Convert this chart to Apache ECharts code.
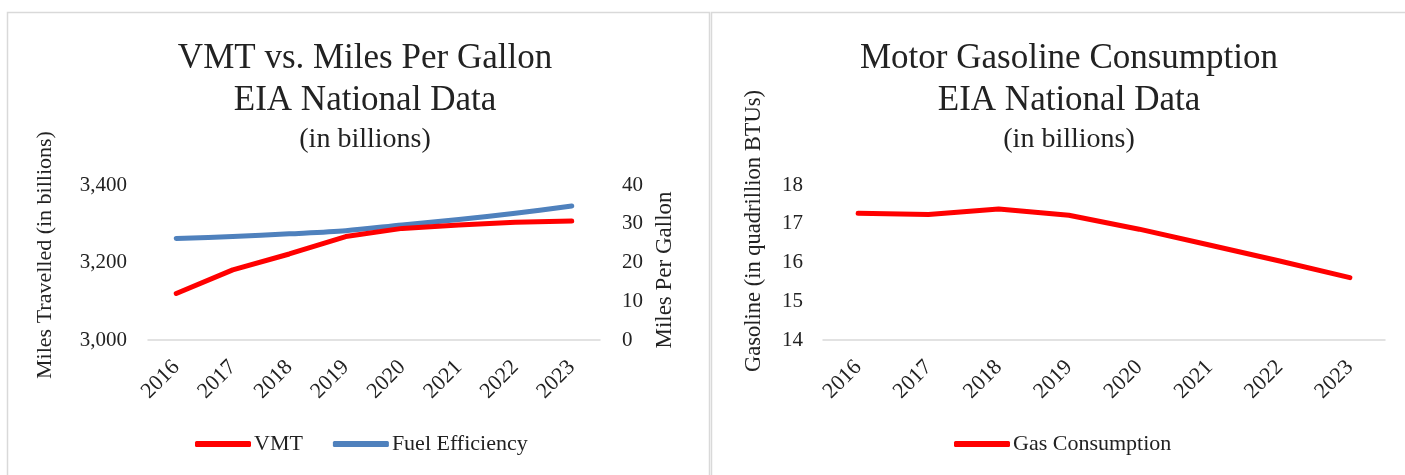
<!DOCTYPE html>
<html>
<head>
<meta charset="utf-8">
<script src="https://cdn.jsdelivr.net/npm/echarts@6/dist/echarts.min.js"></script>
<style>
  html, body { margin: 0; padding: 0; background: #fff; }
  #chart { width: 1405px; height: 475px; }
</style>
</head>
<body>
<div id="chart"></div>
<script>
// data
const years = ['2016', '2017', '2018', '2019', '2020', '2021', '2022', '2023'];
const vmt = [3120, 3181, 3222, 3267, 3288, 3297, 3304, 3307];       // billions of miles
const mpg = [26.2, 26.7, 27.4, 28.2, 29.7, 31.1, 32.7, 34.6];       // miles per gallon
const gas = [17.27, 17.24, 17.38, 17.22, 16.86, 16.45, 16.04, 15.61]; // quadrillion BTUs

const FONT = 'Liberation Serif';
const INK = '#222';
const GRAY = '#d9d9d9';
const RED = '#ff0000';
const BLUE = '#4f81bd';

const chart = echarts.init(document.getElementById('chart'));

const xAxisBase = {
    type: 'category',
    data: years,
    axisTick: { show: false },
    axisLine: { lineStyle: { color: GRAY, width: 1.5 } },
    axisLabel: { rotate: 45, margin: 24, color: INK, fontFamily: FONT, fontSize: 22 }
};

const yAxisBase = {
    type: 'value',
    splitLine: { show: false },
    axisLine: { show: false },
    axisTick: { show: false },
    axisLabel: { color: INK, fontFamily: FONT, fontSize: 21 }
};

const lineStyle = (color) => ({ color: color, width: 5, cap: 'round', join: 'round' });

const legendText = { fontFamily: FONT, fontSize: 22, color: INK, padding: [0, 0, 0, -2] };

const option = {
    animation: false,
    title: [
        {
            text: 'VMT vs. Miles Per Gallon\nEIA National Data',
            subtext: '(in billions)',
            left: 360, top: 33, textAlign: 'center', itemGap: 1,
            textStyle: { fontFamily: FONT, fontSize: 35, fontWeight: 'normal', color: INK, lineHeight: 42 },
            subtextStyle: { fontFamily: FONT, fontSize: 28, color: INK, lineHeight: 34 }
        },
        {
            text: 'Motor Gasoline Consumption\nEIA National Data',
            subtext: '(in billions)',
            left: 1064, top: 33, textAlign: 'center', itemGap: 1,
            textStyle: { fontFamily: FONT, fontSize: 35, fontWeight: 'normal', color: INK, lineHeight: 42 },
            subtextStyle: { fontFamily: FONT, fontSize: 28, color: INK, lineHeight: 34 }
        }
    ],
    legend: [
        {
            data: ['VMT', 'Fuel Efficiency'],
            left: 190, top: 428, itemGap: 30,
            icon: 'roundRect', itemWidth: 56, itemHeight: 6,
            textStyle: legendText
        },
        {
            data: ['Gas Consumption'],
            left: 949, top: 428,
            icon: 'roundRect', itemWidth: 56, itemHeight: 6,
            textStyle: legendText
        }
    ],
    grid: [
        { left: 148, top: 185, width: 452, height: 155 },
        { left: 823, top: 185, width: 562, height: 155 }
    ],
    xAxis: [
        Object.assign({}, xAxisBase, { gridIndex: 0 }),
        Object.assign({}, xAxisBase, { gridIndex: 1 })
    ],
    yAxis: [
        Object.assign({}, yAxisBase, {
            gridIndex: 0, min: 3000, max: 3400, interval: 200,
            axisLabel: Object.assign({}, yAxisBase.axisLabel, {
                margin: 21,
                formatter: (v) => v.toLocaleString('en-US')
            })
        }),
        Object.assign({}, yAxisBase, {
            gridIndex: 0, position: 'right', min: 0, max: 40, interval: 10,
            axisLabel: Object.assign({}, yAxisBase.axisLabel, { margin: 22 })
        }),
        Object.assign({}, yAxisBase, {
            gridIndex: 1, min: 14, max: 18, interval: 1,
            axisLabel: Object.assign({}, yAxisBase.axisLabel, { margin: 20 })
        })
    ],
    series: [
        {
            name: 'VMT', type: 'line', xAxisIndex: 0, yAxisIndex: 0,
            data: vmt, symbol: 'none', lineStyle: lineStyle(RED), itemStyle: { color: RED }, z: 3
        },
        {
            name: 'Fuel Efficiency', type: 'line', xAxisIndex: 0, yAxisIndex: 1,
            data: mpg, symbol: 'none', smooth: 0.3, lineStyle: lineStyle(BLUE), itemStyle: { color: BLUE }, z: 2
        },
        {
            name: 'Gas Consumption', type: 'line', xAxisIndex: 1, yAxisIndex: 2,
            data: gas, symbol: 'none', lineStyle: lineStyle(RED), itemStyle: { color: RED }
        }
    ],
    graphic: [
        // panel frames
        { type: 'rect', shape: { x: 7.5, y: 12.5, width: 702, height: 520 }, style: { fill: 'none', stroke: GRAY, lineWidth: 1.5 }, silent: true },
        { type: 'rect', shape: { x: 711.5, y: 12.5, width: 720, height: 520 }, style: { fill: 'none', stroke: GRAY, lineWidth: 1.5 }, silent: true },
        // axis titles
        {
            type: 'text', x: 45, y: 255, rotation: Math.PI / 2,
            style: { text: 'Miles Travelled (in billions)', fontFamily: FONT, fontSize: 22, fill: INK, align: 'center', verticalAlign: 'middle' }
        },
        {
            type: 'text', x: 665, y: 270, rotation: Math.PI / 2,
            style: { text: 'Miles Per Gallon', fontFamily: FONT, fontSize: 23, fill: INK, align: 'center', verticalAlign: 'middle' }
        },
        {
            type: 'text', x: 754, y: 231, rotation: Math.PI / 2,
            style: { text: 'Gasoline (in quadrillion BTUs)', fontFamily: FONT, fontSize: 22.5, fill: INK, align: 'center', verticalAlign: 'middle' }
        }
    ]
};

chart.setOption(option);
</script>
</body>
</html>
